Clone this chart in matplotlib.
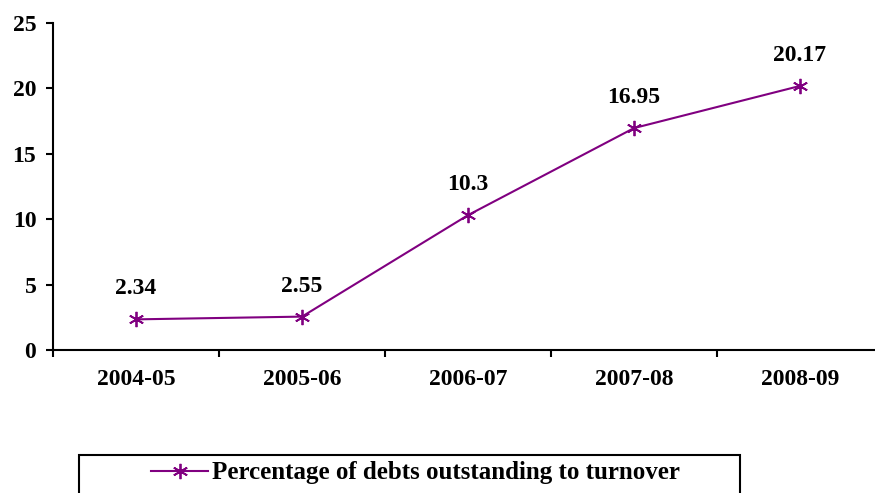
import matplotlib.pyplot as plt
from matplotlib.patches import Rectangle

years = ["2004-05", "2005-06", "2006-07", "2007-08", "2008-09"]
pct_debts = [2.34, 2.55, 10.3, 16.95, 20.17]
value_labels = ["2.34", "2.55", "10.3", "16.95", "20.17"]

plt.rcParams['font.family'] = ['Liberation Serif', 'DejaVu Serif']
plt.rcParams['font.weight'] = 'bold'

fig = plt.figure(figsize=(8.75, 4.93), dpi=100)
# axes run a little past the right edge of the figure
ax = fig.add_axes([53/875, 1-350/493, (5*166)/875, (350-22.7)/493])

x = list(range(len(years)))
line, = ax.plot(x, pct_debts, color="#800080", linewidth=1.5,
                marker=(6, 2, 0), markersize=11, markeredgewidth=1.3,
                label="Percentage of debts outstanding to turnover")

for xi, yi, lab in zip(x, pct_debts, value_labels):
    ax.annotate(lab, (xi, yi), xytext=(0, 22), textcoords="offset points",
                ha="center", va="center", fontsize=17, fontweight="bold")

ax.set_xlim(-0.5, len(years) - 0.5)
ax.set_ylim(0, 25)
ax.set_yticks([0, 5, 10, 15, 20, 25])

# ticks between categories, labels centred in each bin
ax.set_xticks([i - 0.5 for i in range(len(years) + 1)])
ax.set_xticklabels([])
ax.set_xticks(x, minor=True)
ax.set_xticklabels(years, minor=True, fontsize=17, fontweight="bold")
ax.tick_params(axis="x", which="minor", length=0, pad=14)
ax.tick_params(axis="x", which="major", length=5, width=1.5, direction="out")
ax.tick_params(axis="y", length=5, width=1.5, direction="out", pad=7, labelsize=17)

ax.spines["top"].set_visible(False)
ax.spines["right"].set_visible(False)
ax.spines["left"].set_linewidth(1.5)
ax.spines["bottom"].set_linewidth(1.5)

# legend box, cut off at the bottom like the original
box = Rectangle((79/875, -0.05), (740-79)/875, 0.05 + 1-455/493,
                transform=fig.transFigure, fill=False, edgecolor="black",
                linewidth=1.5, clip_on=False)
fig.patches.append(box)
fig.legend(handles=[line], loc="center", frameon=False,
           bbox_to_anchor=((148+683)/2/875, 1-473/493),
           prop={"size": 18, "weight": "bold"}, handlelength=2.3,
           handletextpad=0.15)

fig.savefig("out.png", dpi=100)
